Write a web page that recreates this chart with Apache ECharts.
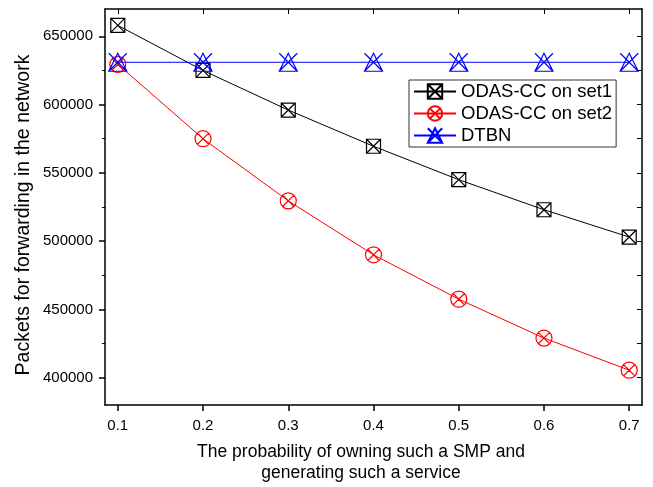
<!DOCTYPE html>
<html><head><meta charset="utf-8">
<script src="https://cdn.jsdelivr.net/npm/echarts@6/dist/echarts.min.js"></script>
<style>html,body{margin:0;padding:0;background:#fff}#c{width:653px;height:487px}</style>
</head><body><div id="c"></div>
<script>
const probabilities = [0.1, 0.2, 0.3, 0.4, 0.5, 0.6, 0.7];
const set1Values = [658000, 625000, 596000, 569500, 545000, 523000, 503000];
const set2Values = [629500, 575000, 529500, 490000, 457500, 429000, 405500];
const dtbnValues = [631000, 631000, 631000, 631000, 631000, 631000, 631000];
const xTickValues = [0.1, 0.2, 0.3, 0.4, 0.5, 0.6, 0.7];
const yMajorTicks = [400000, 450000, 500000, 550000, 600000, 650000];
const yMinorTicks = [425000, 475000, 525000, 575000, 625000];
const seriesNames = ['ODAS-CC on set1', 'ODAS-CC on set2', 'DTBN'];
const xTitle = 'The probability of owning such a SMP and\ngenerating such a service';
const yTitle = 'Packets for forwarding in the network';

const FONT = 'Liberation Sans, Arial, sans-serif';
const symSquareX = 'path://M0,0 L10,0 L10,10 L0,10 Z M0,0 L10,10 M10,0 L0,10';
const symCircleX = 'path://M0,5 A5,5 0 1,1 10,5 A5,5 0 1,1 0,5 Z M1.46,1.46 L8.54,8.54 M8.54,1.46 L1.46,8.54';
const symTriX = 'path://M5,0 L10,10 L0,10 Z M0,0 L10,10 M10,0 L0,10';

const chart = echarts.init(document.getElementById('c'), null, {renderer: 'canvas'});
const pair = (xs, ys) => xs.map((x, i) => [x, ys[i]]);
const axisLine = {show: true, lineStyle: {color: '#000', width: 1.5}};
const yMin = 380000, yMax = 670000, xMin = 0.085, xMax = 0.715;

chart.setOption({
  animation: false,
  backgroundColor: '#fff',
  grid: {left: 105, right: 11, top: 9, bottom: 82, containLabel: false},
  graphic: [
    {type: 'text', left: 'center', x: 0, style: {}, silent: true, invisible: true},
    {type: 'text', x: 361, y: 463, silent: true,
     style: {text: xTitle, fontFamily: FONT, fontSize: 17.5, fill: '#000', align: 'center', verticalAlign: 'middle', lineHeight: 21}},
    {type: 'text', x: 24, y: 215, rotation: Math.PI / 2, silent: true,
     style: {text: yTitle, fontFamily: FONT, fontSize: 19.5, fill: '#000', align: 'center', verticalAlign: 'middle'}}
  ],
  xAxis: [
    {type: 'value', position: 'bottom', min: xMin, max: xMax,
     axisLine: axisLine,
     axisTick: {show: true, inside: false, length: 6, lineStyle: {color: '#000', width: 1.5}, customValues: xTickValues},
     axisLabel: {show: true, margin: 13, fontFamily: FONT, fontSize: 15, color: '#000', customValues: xTickValues,
                 formatter: v => String(Math.round(v * 10) / 10)},
     splitLine: {show: false}},
    {type: 'value', position: 'top', min: xMin, max: xMax,
     axisLine: axisLine,
     axisTick: {show: true, inside: true, length: 5, lineStyle: {color: '#000', width: 1}, customValues: xTickValues},
     axisLabel: {show: false}, splitLine: {show: false}}
  ],
  yAxis: [
    {type: 'value', position: 'left', min: yMin, max: yMax,
     axisLine: axisLine,
     axisTick: {show: true, inside: false, length: 6, lineStyle: {color: '#000', width: 1.5}, customValues: yMajorTicks},
     axisLabel: {show: true, margin: 12, fontFamily: FONT, fontSize: 15, color: '#000', customValues: yMajorTicks,
                 formatter: v => String(v)},
     splitLine: {show: false}},
    {type: 'value', position: 'left', min: yMin, max: yMax,
     axisLine: {show: false},
     axisTick: {show: true, inside: false, length: 3, lineStyle: {color: '#000', width: 1}, customValues: yMinorTicks},
     axisLabel: {show: false}, splitLine: {show: false}},
    {type: 'value', position: 'right', min: yMin, max: yMax,
     axisLine: axisLine,
     axisTick: {show: true, inside: true, length: 5, lineStyle: {color: '#000', width: 1}, customValues: yMajorTicks.concat(yMinorTicks)},
     axisLabel: {show: false}, splitLine: {show: false}}
  ],
  legend: {
    orient: 'vertical', left: 409, top: 80,
    backgroundColor: '#fff', borderColor: '#333', borderWidth: 1,
    padding: [2, 4, 2, 4], itemGap: 3, itemWidth: 42, itemHeight: 18,
    textStyle: {fontFamily: FONT, fontSize: 18.5, color: '#000', padding: [0, 0, 0, 0]},
    data: seriesNames
  },
  series: [
    {name: seriesNames[0], type: 'line', data: pair(probabilities, set1Values),
     symbol: symSquareX, symbolSize: 14,
     lineStyle: {color: '#000', width: 1},
     itemStyle: {color: 'rgba(0,0,0,0)', borderColor: '#000', borderWidth: 1.2}},
    {name: seriesNames[1], type: 'line', data: pair(probabilities, set2Values),
     symbol: symCircleX, symbolSize: 16,
     lineStyle: {color: '#ff0000', width: 1},
     itemStyle: {color: 'rgba(0,0,0,0)', borderColor: '#ff0000', borderWidth: 1.2}},
    {name: seriesNames[2], type: 'line', data: pair(probabilities, dtbnValues),
     symbol: symTriX, symbolSize: 18,
     lineStyle: {color: '#0000ff', width: 1},
     itemStyle: {color: 'rgba(0,0,0,0)', borderColor: '#0000ff', borderWidth: 1.2}}
  ]
});
</script></body></html>
